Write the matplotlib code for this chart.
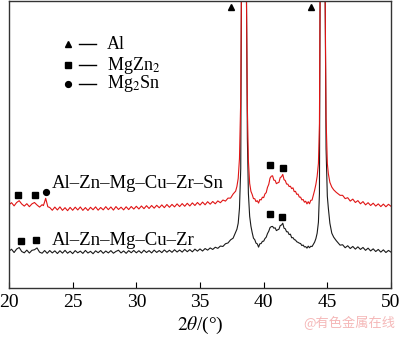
import numpy as np
import matplotlib
matplotlib.use('Agg')
import matplotlib.pyplot as plt

plt.rcParams['font.family'] = ['Liberation Serif', 'DejaVu Serif']
plt.rcParams['mathtext.fontset'] = 'stix'

# ------------------------------------------------------------
# XRD patterns (intensity in arbitrary units, peaks clipped)
# ------------------------------------------------------------
tth_zr = [20.0, 20.2, 20.4, 20.6, 20.8, 21.0, 21.2, 21.4, 21.6, 21.8, 22.0, 22.2, 22.4, 22.6, 22.8,
          23.0, 23.2, 23.4, 23.6, 23.8, 24.0, 24.2, 24.4, 24.6, 24.8, 25.0, 25.2, 25.4, 25.6, 25.8,
          26.0, 26.2, 26.4, 26.6, 26.8, 27.0, 27.2, 27.4, 27.6, 27.8, 28.0, 28.2, 28.4, 28.6, 28.8,
          29.0, 29.2, 29.4, 29.6, 29.8, 30.0, 30.2, 30.4, 30.6, 30.8, 31.0, 31.2, 31.4, 31.6, 31.8,
          32.0, 32.2, 32.4, 32.6, 32.8, 33.0, 33.2, 33.4, 33.6, 33.8, 34.0, 34.2, 34.4, 34.6, 34.8,
          35.0, 35.2, 35.4, 35.6, 35.8, 36.0, 36.2, 36.4, 36.6, 36.8, 37.0, 37.2, 37.4, 37.6, 37.8,
          37.9, 38.0, 38.1, 38.2, 38.25, 38.35, 38.45, 38.55, 38.65, 38.72, 38.8, 38.9, 39.0, 39.1,
          39.2, 39.3, 39.4, 39.5, 39.6, 39.7, 39.8, 39.9, 40.0, 40.1, 40.2, 40.3, 40.4, 40.5, 40.6,
          40.7, 40.8, 40.9, 41.0, 41.1, 41.2, 41.3, 41.4, 41.5, 41.6, 41.7, 41.8, 41.9, 42.0, 42.1,
          42.2, 42.3, 42.4, 42.5, 42.6, 42.7, 42.8, 42.9, 43.0, 43.1, 43.2, 43.3, 43.4, 43.5, 43.6,
          43.7, 43.8, 43.9, 44.0, 44.1, 44.2, 44.3, 44.38, 44.43, 44.53, 44.63, 44.73, 44.83, 44.9,
          45.0, 45.08, 45.2, 45.35, 45.5, 45.7, 45.9, 46.0, 46.2, 46.4, 46.6, 46.8, 47.0, 47.2, 47.4,
          47.6, 47.8, 48.0, 48.2, 48.4, 48.6, 48.8, 49.0, 49.2, 49.4, 49.6, 49.8, 50.0]
int_zr = [37.0, 38.9, 35.6, 39.1, 40.6, 36.6, 35.3, 38.0, 35.1, 37.8, 38.4, 40.2, 36.0, 34.9, 37.6,
          34.8, 37.6, 35.2, 37.3, 34.6, 37.4, 35.0, 37.8, 34.9, 36.9, 34.5, 37.5, 35.3, 37.0, 34.7,
          37.7, 35.1, 36.8, 34.4, 37.3, 35.4, 37.6, 34.8, 37.1, 35.2, 37.5, 34.9, 36.7, 37.9, 35.2,
          37.2, 34.8, 37.5, 35.4, 37.7, 35.3, 37.4, 35.1, 37.9, 35.6, 37.5, 35.2, 38.0, 35.7, 37.6,
          35.5, 38.2, 35.9, 37.9, 35.8, 38.4, 36.1, 38.1, 36.0, 38.7, 36.4, 38.5, 36.3, 39.0, 37.0,
          39.2, 37.1, 39.6, 38.0, 40.2, 38.7, 40.9, 39.8, 42.1, 41.7, 44.4, 45.2, 48.3, 50.0, 56.0,
          59.0, 65.0, 80.0, 120.0, 290.0, 700.0, 1500.0, 700.0, 290.0, 150.0, 95.0, 72.0, 62.0, 55.5,
          50.0, 48.5, 45.0, 44.3, 41.0, 44.4, 44.6, 46.8, 47.0, 49.6, 51.0, 54.6, 57.0, 60.6, 61.6,
          61.8, 60.0, 60.4, 57.6, 58.4, 59.0, 62.6, 63.2, 65.0, 60.0, 59.4, 56.4, 56.4, 53.6, 54.0,
          50.4, 50.6, 48.6, 48.1, 46.4, 45.8, 45.0, 44.6, 42.6, 43.1, 41.2, 41.5, 40.0, 42.0, 40.4,
          41.9, 41.6, 43.9, 46.0, 49.5, 55.0, 66.0, 95.0, 290.0, 700.0, 1500.0, 700.0, 290.0, 140.0,
          92.0, 80.0, 65.0, 55.0, 51.0, 47.5, 44.5, 43.0, 43.4, 40.4, 42.4, 39.6, 41.7, 39.0, 41.3,
          38.7, 40.7, 37.8, 40.0, 37.2, 39.3, 36.6, 38.7, 36.0, 38.3, 35.6, 37.7, 36.0]

tth_sn = [20.0, 20.2, 20.4, 20.6, 20.8, 21.0, 21.2, 21.4, 21.6, 21.8, 22.0, 22.2, 22.4, 22.6, 22.7,
          22.8, 22.88, 22.96, 23.05, 23.2, 23.4, 23.6, 23.8, 24.0, 24.2, 24.4, 24.6, 24.8, 25.0, 25.2,
          25.4, 25.6, 25.8, 26.0, 26.2, 26.4, 26.6, 26.8, 27.0, 27.2, 27.4, 27.6, 27.8, 28.0, 28.2,
          28.4, 28.6, 28.8, 29.0, 29.2, 29.4, 29.6, 29.8, 30.0, 30.2, 30.4, 30.6, 30.8, 31.0, 31.2,
          31.4, 31.6, 31.8, 32.0, 32.2, 32.4, 32.6, 32.8, 33.0, 33.2, 33.4, 33.6, 33.8, 34.0, 34.2,
          34.4, 34.6, 34.8, 35.0, 35.2, 35.4, 35.6, 35.8, 36.0, 36.2, 36.4, 36.6, 36.8, 37.0, 37.2,
          37.4, 37.6, 37.8, 37.9, 38.0, 38.1, 38.2, 38.25, 38.35, 38.45, 38.55, 38.65, 38.72, 38.8,
          38.9, 39.0, 39.1, 39.2, 39.3, 39.4, 39.5, 39.6, 39.7, 39.8, 39.9, 40.0, 40.1, 40.2, 40.3,
          40.4, 40.5, 40.6, 40.7, 40.8, 40.9, 41.0, 41.1, 41.2, 41.3, 41.4, 41.5, 41.6, 41.7, 41.8,
          41.9, 42.0, 42.1, 42.2, 42.3, 42.4, 42.5, 42.6, 42.7, 42.8, 42.9, 43.0, 43.1, 43.2, 43.3,
          43.4, 43.5, 43.6, 43.7, 43.8, 43.9, 44.0, 44.1, 44.2, 44.3, 44.38, 44.43, 44.53, 44.63,
          44.73, 44.83, 44.9, 45.0, 45.08, 45.2, 45.35, 45.5, 45.7, 45.9, 46.0, 46.2, 46.4, 46.6,
          46.8, 47.0, 47.2, 47.4, 47.6, 47.8, 48.0, 48.2, 48.4, 48.6, 48.8, 49.0, 49.2, 49.4, 49.6,
          49.8, 50.0]
int_sn = [83.5, 85.6, 82.4, 85.8, 87.6, 84.3, 82.2, 84.6, 81.6, 84.4, 85.8, 83.3, 81.2, 83.6, 82.7,
          86.5, 90.0, 86.0, 81.5, 80.8, 78.0, 81.2, 78.3, 81.4, 77.9, 80.6, 77.6, 80.9, 78.0, 81.1,
          78.3, 81.3, 77.9, 80.7, 77.8, 81.0, 78.5, 81.4, 78.1, 80.8, 78.4, 81.6, 78.6, 81.3, 78.2,
          81.7, 78.8, 81.1, 78.4, 81.5, 78.7, 81.8, 79.2, 82.0, 79.3, 82.3, 79.6, 82.6, 79.8, 82.8,
          80.1, 83.0, 80.5, 83.4, 80.6, 83.8, 81.0, 83.9, 81.4, 84.4, 81.7, 84.7, 82.0, 85.0, 82.3,
          85.4, 82.8, 85.8, 83.2, 86.2, 83.5, 86.6, 84.1, 86.8, 84.5, 87.4, 85.6, 88.3, 87.2, 90.2,
          90.2, 94.3, 97.2, 102.0, 110.0, 130.0, 190.0, 290.0, 700.0, 1500.0, 700.0, 290.0, 180.0, 128.0,
          105.0, 97.0, 93.8, 89.7, 89.6, 86.7, 87.6, 85.2, 88.8, 88.4, 91.1, 90.7, 94.4, 95.7, 101.0,
          104.0, 110.3, 112.2, 112.6, 108.2, 108.0, 104.7, 105.5, 106.0, 110.8, 111.6, 114.0, 108.7, 107.8, 104.3,
          104.2, 101.8, 102.1, 99.7, 100.5, 96.7, 97.0, 94.0, 94.2, 91.2, 91.2, 88.4, 88.8, 86.1, 87.1,
          84.4, 86.6, 84.5, 88.0, 88.2, 93.3, 98.0, 104.0, 112.0, 125.0, 165.0, 290.0, 700.0, 1500.0,
          700.0, 290.0, 170.0, 125.0, 114.7, 106.0, 101.3, 98.5, 96.0, 94.0, 93.0, 93.0, 89.7, 90.6,
          87.2, 89.2, 85.8, 87.7, 84.5, 86.7, 83.4, 85.6, 82.8, 85.1, 82.2, 84.4, 81.7, 84.2, 81.5,
          84.0, 82.0]

# phase markers: (2theta, height)
al_pos = [37.44, 43.72]
al_hgt = [282, 282]
mgzn2_zr_pos = [20.94, 22.12, 40.5, 41.47]
mgzn2_zr_hgt = [47.3, 48.0, 74.0, 71.3]
mgzn2_sn_pos = [20.73, 22.04, 40.5, 41.5]
mgzn2_sn_hgt = [93.5, 93.5, 123.0, 120.7]
mg2sn_pos = [22.88]
mg2sn_hgt = [96.3]

fig = plt.figure(figsize=(4.0, 3.37), dpi=100)
ax = fig.add_axes([9 / 400, 49 / 337, 382 / 400, 287 / 337])

ax.plot(tth_zr, int_zr, color='#1a1a1a', linewidth=0.8)
ax.plot(tth_sn, int_sn, color='#e01515', linewidth=0.8)

ax.plot(al_pos, al_hgt, '^', color='black', markersize=4.5, clip_on=False)
ax.plot(mgzn2_zr_pos, mgzn2_zr_hgt, 's', color='black', markersize=4)
ax.plot(mgzn2_sn_pos, mgzn2_sn_hgt, 's', color='black', markersize=4)
ax.plot(mg2sn_pos, mg2sn_hgt, 'o', color='black', markersize=4.2)

ax.text(23.38, 105, 'Al–Zn–Mg–Cu–Zr–Sn', fontsize=13.5, va='center', ha='left')
ax.text(23.38, 48, 'Al–Zn–Mg–Cu–Zr', fontsize=13.5, va='center', ha='left')

# legend drawn by hand: marker, dash, phase name
leg_y = [0.850, 0.777, 0.712]
leg_mk = ['^', 's', 'o']
leg_ms = [4.0, 4.0, 4.2]
leg_txt = ['Al', 'MgZn$_2$', 'Mg$_2$Sn']
for y, m, ms, t in zip(leg_y, leg_mk, leg_ms, leg_txt):
    ax.plot([0.154], [y], m, color='black', markersize=ms, transform=ax.transAxes)
    ax.plot([0.183, 0.229], [y, y], color='black', linewidth=1.0, transform=ax.transAxes)
    ax.text(0.256, y, t, fontsize=13, va='center', ha='left', transform=ax.transAxes)

ax.set_xlim(20, 50)
ax.set_ylim(0, 288)
ax.set_xticks([20, 25, 30, 35, 40, 45, 50])
ax.set_yticks([])
ax.tick_params(axis='x', direction='in', length=4, width=0.8, labelsize=14, pad=4)
for spine in ax.spines.values():
    spine.set_linewidth(1.0)
    spine.set_edgecolor('#333333')

ax.set_xlabel(r'$2\theta$/(°)', fontsize=14, labelpad=3)

fig.text(0.987, 0.02, '@有色金属在线', fontsize=9.5, color='#f5b8b8', ha='right', va='bottom',
         family=['Noto Sans CJK SC', 'DejaVu Sans'])

fig.savefig('out.png', dpi=100)
